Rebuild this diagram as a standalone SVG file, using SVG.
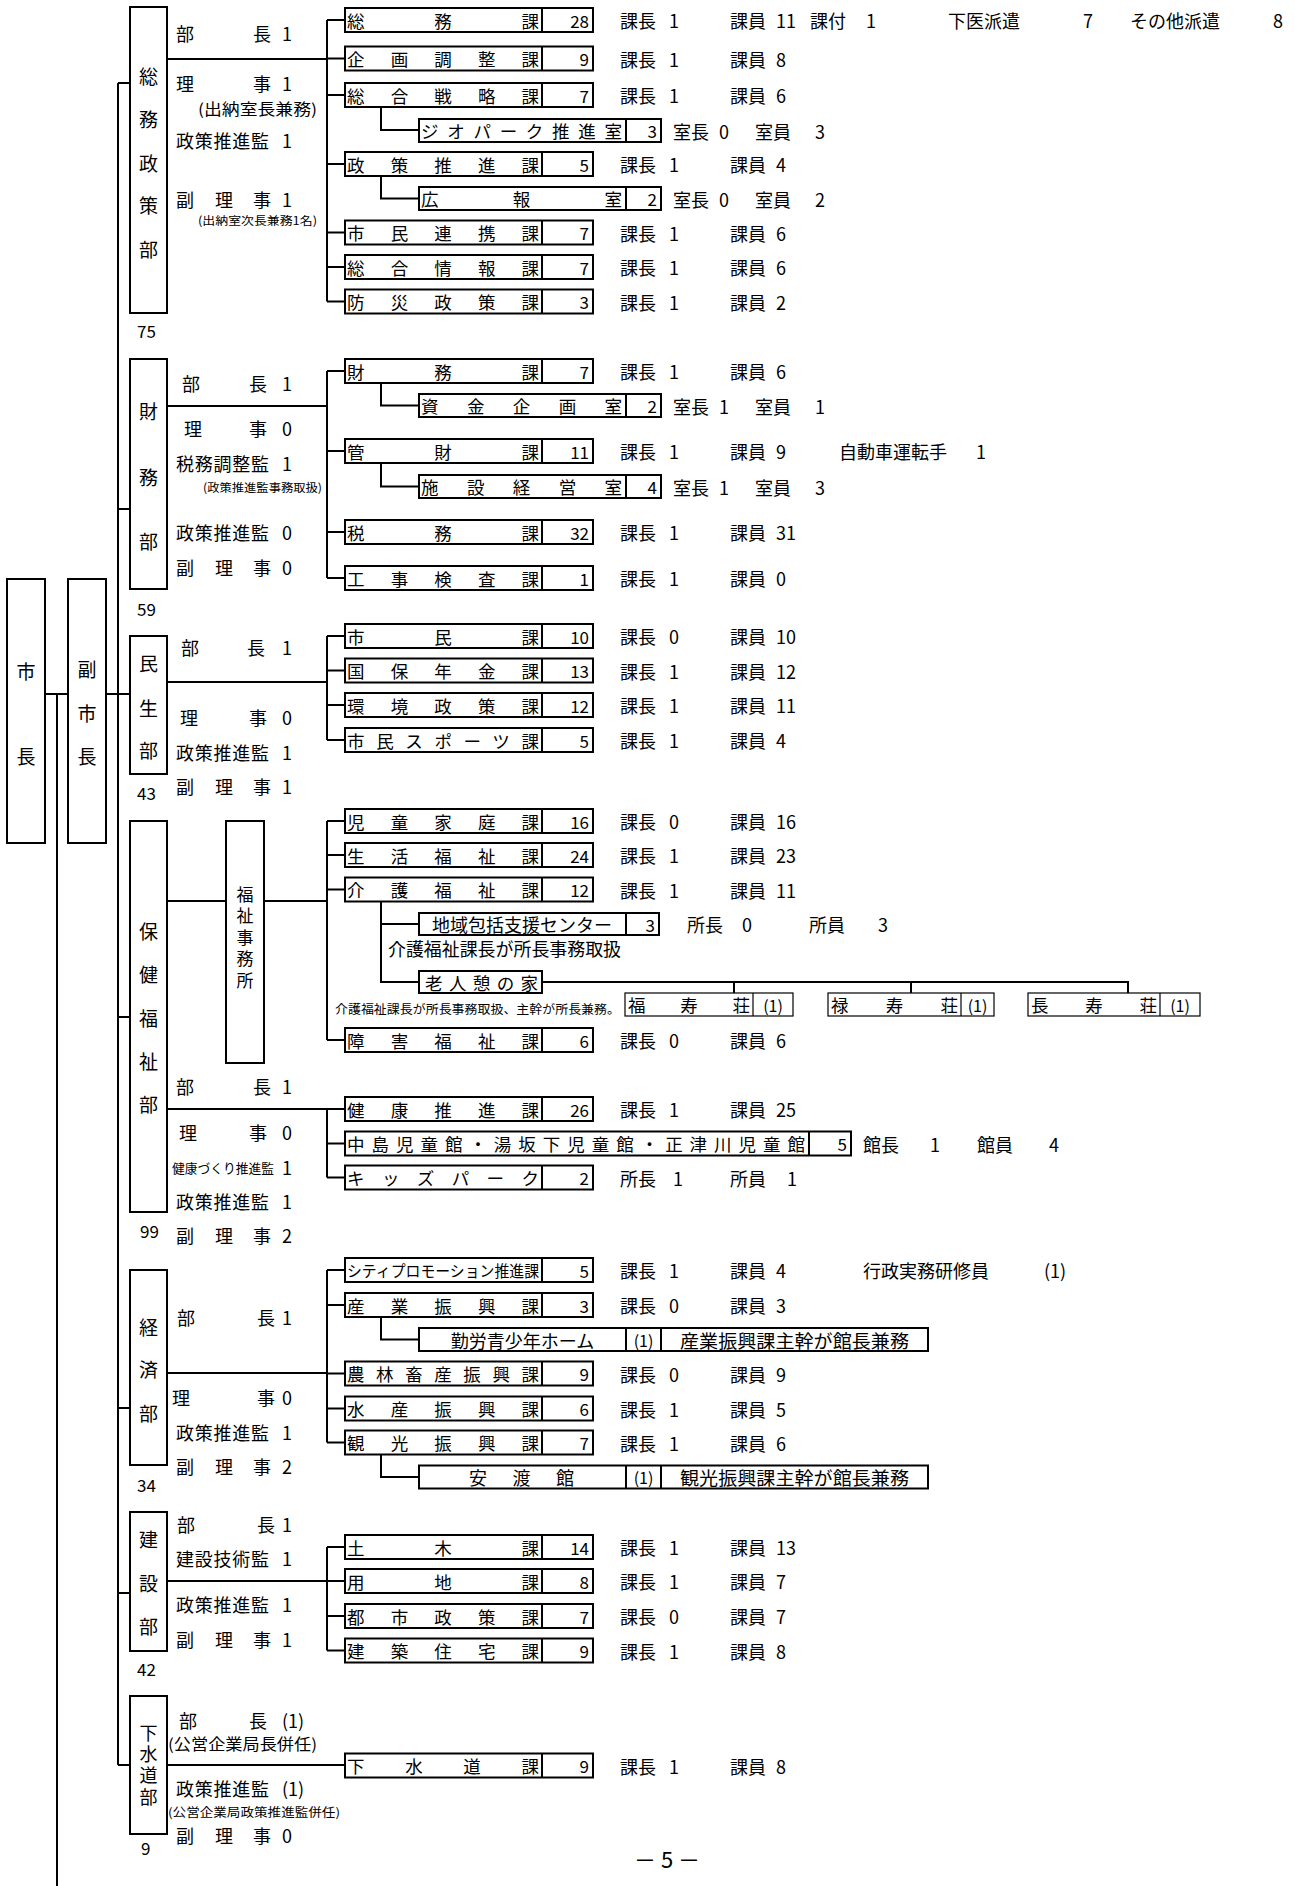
<svg xmlns="http://www.w3.org/2000/svg" width="1295" height="1886" viewBox="0 0 1295 1886">
<style>
text{font-family:"Noto Sans CJK JP","Liberation Sans",sans-serif;fill:#000;dominant-baseline:central}
.ln{stroke:#000;stroke-width:2;fill:none}
.bx{fill:#fff;stroke:#000;stroke-width:2}
.tb{fill:#fff;stroke:#000;stroke-width:1.2}
.dv{stroke:#000;stroke-width:2}
.dt{stroke:#000;stroke-width:1.2}
.d{font-size:19px;text-anchor:middle}
.s{font-size:18px}
.n{font-size:17.5px}
.num{font-size:17px;text-anchor:end}
.c{font-size:16px;text-anchor:middle}
.i{font-size:18px}
.cnt{font-size:17px}
</style>
<rect width="1295" height="1886" fill="#fff"/>

<g id="connectors">
<path class="ln" d="M45 694H68M57 694V1886M106 694H130M118 83V1765"/>
<path class="ln" d="M118 83H130M118 509H130M118 1017H130M118 1408H130M118 1593H130M118 1765H130"/>
<path class="ln" d="M167 59H327M167 406H327M167 682H327M167 901H226M264 901H327M167 1109H327M167 1373H327M167 1581H327M167 1765H345"/>
<path class="ln" d="M327 20V301.5M327 371V578M327 636V740M327 821V1040M327 1109V1177.5M327 1270V1442.5M327 1547V1650.5"/>
<path class="ln" d="M327 20H345M327 58.5H345M327 95H345M327 164H345M327 232.5H345M327 267H345M327 301.5H345
M327 371H345M327 451H345M327 532H345M327 578H345
M327 636H345M327 670.5H345M327 705H345M327 740H345
M327 821H345M327 855H345M327 889.5H345M327 1040H345
M327 1109H345M327 1143.5H345M327 1177.5H345
M327 1270H345M327 1305H345M327 1373.5H345M327 1408.5H345M327 1442.5H345
M327 1547H345M327 1581H345M327 1616H345M327 1650.5H345"/>
<path class="ln" d="M381 107V130H419M381 176V198.5H419M381 383V405.5H419M381 463V486.5H419M381 901.5V982H419M381 924H419M381 1317V1339.5H419M381 1454V1477H419"/>
<path class="ln" d="M542 982H1128V993M734 982V993M911 982V993"/>
</g>

<g id="mayor"><rect class="bx" x="7" y="579" width="38" height="264"/><text class="d" x="26" y="670">市</text><text class="d" x="26" y="755">長</text></g>
<g id="vice-mayor"><rect class="bx" x="68" y="579" width="38" height="264"/><text class="d" x="87" y="668">副</text><text class="d" x="87" y="712">市</text><text class="d" x="87" y="755">長</text></g>

<!-- 総務政策部 -->
<g id="dept-somu">
<rect class="bx" x="130" y="7" width="37" height="306"/>
<text class="d" x="148.5" y="75">総</text><text class="d" x="148.5" y="118">務</text><text class="d" x="148.5" y="162">政</text><text class="d" x="148.5" y="204">策</text><text class="d" x="148.5" y="248">部</text>
<text class="cnt" x="137" y="330">75</text>
<text class="s" y="33"><tspan x="176">部</tspan><tspan x="253">長</tspan><tspan x="282">1</tspan></text>
<text class="s" y="83"><tspan x="176">理</tspan><tspan x="253">事</tspan><tspan x="282">1</tspan></text>
<text x="198" y="108" font-size="15.5" textLength="119" lengthAdjust="spacingAndGlyphs">(出納室長兼務)</text>
<text class="s" y="140"><tspan x="176" textLength="93">政策推進監</tspan><tspan x="282">1</tspan></text>
<text class="s" y="199"><tspan x="176">副</tspan><tspan x="215">理</tspan><tspan x="253">事</tspan><tspan x="282">1</tspan></text>
<text x="198" y="220" font-size="11.5" textLength="119" lengthAdjust="spacingAndGlyphs">(出納室次長兼務1名)</text>
</g>
<g id="somu-ka"><rect class="bx" x="345" y="8" width="248" height="24"/><line class="dv" x1="542" y1="8" x2="542" y2="32"/><text class="n" x="347" y="20" textLength="192">総務課</text><text class="num" x="589" y="20">28</text>
<text class="i" y="20"><tspan x="620">課長</tspan><tspan x="669">1</tspan><tspan x="730">課員</tspan><tspan x="776">11</tspan><tspan x="810">課付</tspan><tspan x="866">1</tspan><tspan x="948">下医派遣</tspan><tspan x="1083">7</tspan><tspan x="1130">その他派遣</tspan><tspan x="1273">8</tspan></text></g>
<g id="kikaku"><rect class="bx" x="345" y="46.5" width="248" height="24"/><line class="dv" x1="542" y1="46.5" x2="542" y2="70.5"/><text class="n" x="347" y="58.5" textLength="192">企画調整課</text><text class="num" x="589" y="58.5">9</text>
<text class="i" y="58.5"><tspan x="620">課長</tspan><tspan x="669">1</tspan><tspan x="730">課員</tspan><tspan x="776">8</tspan></text></g>
<g id="senryaku"><rect class="bx" x="345" y="83" width="248" height="24"/><line class="dv" x1="542" y1="83" x2="542" y2="107"/><text class="n" x="347" y="95" textLength="192">総合戦略課</text><text class="num" x="589" y="95">7</text>
<text class="i" y="95"><tspan x="620">課長</tspan><tspan x="669">1</tspan><tspan x="730">課員</tspan><tspan x="776">6</tspan></text></g>
<g id="geopark"><rect class="bx" x="419" y="119" width="242" height="23"/><line class="dv" x1="626" y1="119" x2="626" y2="142"/><text class="n" x="421" y="130.5" textLength="201">ジオパーク推進室</text><text class="num" x="657" y="130.5">3</text>
<text class="i" y="130.5"><tspan x="673">室長</tspan><tspan x="719">0</tspan><tspan x="755">室員</tspan><tspan x="815">3</tspan></text></g>
<g id="seisaku"><rect class="bx" x="345" y="152" width="248" height="24"/><line class="dv" x1="542" y1="152" x2="542" y2="176"/><text class="n" x="347" y="164" textLength="192">政策推進課</text><text class="num" x="589" y="164">5</text>
<text class="i" y="164"><tspan x="620">課長</tspan><tspan x="669">1</tspan><tspan x="730">課員</tspan><tspan x="776">4</tspan></text></g>
<g id="koho"><rect class="bx" x="419" y="187" width="242" height="23"/><line class="dv" x1="626" y1="187" x2="626" y2="210"/><text class="n" x="421" y="198.5" textLength="201">広報室</text><text class="num" x="657" y="198.5">2</text>
<text class="i" y="198.5"><tspan x="673">室長</tspan><tspan x="719">0</tspan><tspan x="755">室員</tspan><tspan x="815">2</tspan></text></g>
<g id="renkei"><rect class="bx" x="345" y="220.5" width="248" height="24"/><line class="dv" x1="542" y1="220.5" x2="542" y2="244.5"/><text class="n" x="347" y="232.5" textLength="192">市民連携課</text><text class="num" x="589" y="232.5">7</text>
<text class="i" y="232.5"><tspan x="620">課長</tspan><tspan x="669">1</tspan><tspan x="730">課員</tspan><tspan x="776">6</tspan></text></g>
<g id="joho"><rect class="bx" x="345" y="255" width="248" height="24"/><line class="dv" x1="542" y1="255" x2="542" y2="279"/><text class="n" x="347" y="267" textLength="192">総合情報課</text><text class="num" x="589" y="267">7</text>
<text class="i" y="267"><tspan x="620">課長</tspan><tspan x="669">1</tspan><tspan x="730">課員</tspan><tspan x="776">6</tspan></text></g>
<g id="bosai"><rect class="bx" x="345" y="289.5" width="248" height="24"/><line class="dv" x1="542" y1="289.5" x2="542" y2="313.5"/><text class="n" x="347" y="301.5" textLength="192">防災政策課</text><text class="num" x="589" y="301.5">3</text>
<text class="i" y="301.5"><tspan x="620">課長</tspan><tspan x="669">1</tspan><tspan x="730">課員</tspan><tspan x="776">2</tspan></text></g>

<!-- 財務部 -->
<g id="dept-zaimu">
<rect class="bx" x="130" y="359" width="37" height="230"/>
<text class="d" x="148.5" y="410">財</text><text class="d" x="148.5" y="476">務</text><text class="d" x="148.5" y="540">部</text>
<text class="cnt" x="137" y="608">59</text>
<text class="s" y="383"><tspan x="182">部</tspan><tspan x="249">長</tspan><tspan x="282">1</tspan></text>
<text class="s" y="428"><tspan x="184">理</tspan><tspan x="249">事</tspan><tspan x="282">0</tspan></text>
<text class="s" y="463"><tspan x="176" textLength="93">税務調整監</tspan><tspan x="282">1</tspan></text>
<text x="203" y="487" font-size="11.5" textLength="119" lengthAdjust="spacingAndGlyphs">(政策推進監事務取扱)</text>
<text class="s" y="532"><tspan x="176" textLength="93">政策推進監</tspan><tspan x="282">0</tspan></text>
<text class="s" y="567"><tspan x="176">副</tspan><tspan x="215">理</tspan><tspan x="253">事</tspan><tspan x="282">0</tspan></text>
</g>
<g id="zaimu-ka"><rect class="bx" x="345" y="359" width="248" height="24"/><line class="dv" x1="542" y1="359" x2="542" y2="383"/><text class="n" x="347" y="371" textLength="192">財務課</text><text class="num" x="589" y="371">7</text>
<text class="i" y="371"><tspan x="620">課長</tspan><tspan x="669">1</tspan><tspan x="730">課員</tspan><tspan x="776">6</tspan></text></g>
<g id="shikin"><rect class="bx" x="419" y="394" width="242" height="23"/><line class="dv" x1="626" y1="394" x2="626" y2="417"/><text class="n" x="421" y="405.5" textLength="201">資金企画室</text><text class="num" x="657" y="405.5">2</text>
<text class="i" y="405.5"><tspan x="673">室長</tspan><tspan x="719">1</tspan><tspan x="755">室員</tspan><tspan x="815">1</tspan></text></g>
<g id="kanzai"><rect class="bx" x="345" y="439" width="248" height="24"/><line class="dv" x1="542" y1="439" x2="542" y2="463"/><text class="n" x="347" y="451" textLength="192">管財課</text><text class="num" x="589" y="451">11</text>
<text class="i" y="451"><tspan x="620">課長</tspan><tspan x="669">1</tspan><tspan x="730">課員</tspan><tspan x="776">9</tspan><tspan x="839">自動車運転手</tspan><tspan x="976">1</tspan></text></g>
<g id="shisetsu"><rect class="bx" x="419" y="475" width="242" height="23"/><line class="dv" x1="626" y1="475" x2="626" y2="498"/><text class="n" x="421" y="486.5" textLength="201">施設経営室</text><text class="num" x="657" y="486.5">4</text>
<text class="i" y="486.5"><tspan x="673">室長</tspan><tspan x="719">1</tspan><tspan x="755">室員</tspan><tspan x="815">3</tspan></text></g>
<g id="zeimu"><rect class="bx" x="345" y="520" width="248" height="24"/><line class="dv" x1="542" y1="520" x2="542" y2="544"/><text class="n" x="347" y="532" textLength="192">税務課</text><text class="num" x="589" y="532">32</text>
<text class="i" y="532"><tspan x="620">課長</tspan><tspan x="669">1</tspan><tspan x="730">課員</tspan><tspan x="776">31</tspan></text></g>
<g id="kensa"><rect class="bx" x="345" y="566" width="248" height="24"/><line class="dv" x1="542" y1="566" x2="542" y2="590"/><text class="n" x="347" y="578" textLength="192">工事検査課</text><text class="num" x="589" y="578">1</text>
<text class="i" y="578"><tspan x="620">課長</tspan><tspan x="669">1</tspan><tspan x="730">課員</tspan><tspan x="776">0</tspan></text></g>

<!-- 民生部 -->
<g id="dept-minsei">
<rect class="bx" x="130" y="636" width="37" height="138"/>
<text class="d" x="148.5" y="662">民</text><text class="d" x="148.5" y="707">生</text><text class="d" x="148.5" y="749">部</text>
<text class="cnt" x="137" y="792">43</text>
<text class="s" y="647"><tspan x="181">部</tspan><tspan x="247">長</tspan><tspan x="282">1</tspan></text>
<text class="s" y="717"><tspan x="180">理</tspan><tspan x="249">事</tspan><tspan x="282">0</tspan></text>
<text class="s" y="752"><tspan x="176" textLength="93">政策推進監</tspan><tspan x="282">1</tspan></text>
<text class="s" y="786"><tspan x="176">副</tspan><tspan x="215">理</tspan><tspan x="253">事</tspan><tspan x="282">1</tspan></text>
</g>
<g id="shimin"><rect class="bx" x="345" y="624" width="248" height="24"/><line class="dv" x1="542" y1="624" x2="542" y2="648"/><text class="n" x="347" y="636" textLength="192">市民課</text><text class="num" x="589" y="636">10</text>
<text class="i" y="636"><tspan x="620">課長</tspan><tspan x="669">0</tspan><tspan x="730">課員</tspan><tspan x="776">10</tspan></text></g>
<g id="kokuho"><rect class="bx" x="345" y="658.5" width="248" height="24"/><line class="dv" x1="542" y1="658.5" x2="542" y2="682.5"/><text class="n" x="347" y="670.5" textLength="192">国保年金課</text><text class="num" x="589" y="670.5">13</text>
<text class="i" y="670.5"><tspan x="620">課長</tspan><tspan x="669">1</tspan><tspan x="730">課員</tspan><tspan x="776">12</tspan></text></g>
<g id="kankyo"><rect class="bx" x="345" y="693" width="248" height="24"/><line class="dv" x1="542" y1="693" x2="542" y2="717"/><text class="n" x="347" y="705" textLength="192">環境政策課</text><text class="num" x="589" y="705">12</text>
<text class="i" y="705"><tspan x="620">課長</tspan><tspan x="669">1</tspan><tspan x="730">課員</tspan><tspan x="776">11</tspan></text></g>
<g id="sports"><rect class="bx" x="345" y="728" width="248" height="24"/><line class="dv" x1="542" y1="728" x2="542" y2="752"/><text class="n" x="347" y="740" textLength="192">市民スポーツ課</text><text class="num" x="589" y="740">5</text>
<text class="i" y="740"><tspan x="620">課長</tspan><tspan x="669">1</tspan><tspan x="730">課員</tspan><tspan x="776">4</tspan></text></g>

<!-- 保健福祉部 -->
<g id="dept-hoken">
<rect class="bx" x="130" y="821" width="37" height="391"/>
<text class="d" x="148.5" y="930">保</text><text class="d" x="148.5" y="973">健</text><text class="d" x="148.5" y="1017">福</text><text class="d" x="148.5" y="1060">祉</text><text class="d" x="148.5" y="1103">部</text>
<text class="cnt" x="140" y="1230">99</text>
<text class="s" y="1086"><tspan x="176">部</tspan><tspan x="253">長</tspan><tspan x="282">1</tspan></text>
<text class="s" y="1132"><tspan x="179">理</tspan><tspan x="249">事</tspan><tspan x="282">0</tspan></text>
<text class="s" y="1167"><tspan x="172" font-size="13" textLength="102" lengthAdjust="spacingAndGlyphs">健康づくり推進監</tspan><tspan x="282">1</tspan></text>
<text class="s" y="1201"><tspan x="176" textLength="93">政策推進監</tspan><tspan x="282">1</tspan></text>
<text class="s" y="1235"><tspan x="176">副</tspan><tspan x="215">理</tspan><tspan x="253">事</tspan><tspan x="282">2</tspan></text>
</g>
<g id="fukushi-jimusho"><rect class="bx" x="226" y="821" width="38" height="242"/>
<text x="245" y="886" font-size="17" writing-mode="vertical-rl" letter-spacing="4.5">福祉事務所</text></g>
<g id="jido"><rect class="bx" x="345" y="809" width="248" height="24"/><line class="dv" x1="542" y1="809" x2="542" y2="833"/><text class="n" x="347" y="821" textLength="192">児童家庭課</text><text class="num" x="589" y="821">16</text>
<text class="i" y="821"><tspan x="620">課長</tspan><tspan x="669">0</tspan><tspan x="730">課員</tspan><tspan x="776">16</tspan></text></g>
<g id="seikatsu"><rect class="bx" x="345" y="843" width="248" height="24"/><line class="dv" x1="542" y1="843" x2="542" y2="867"/><text class="n" x="347" y="855" textLength="192">生活福祉課</text><text class="num" x="589" y="855">24</text>
<text class="i" y="855"><tspan x="620">課長</tspan><tspan x="669">1</tspan><tspan x="730">課員</tspan><tspan x="776">23</tspan></text></g>
<g id="kaigo"><rect class="bx" x="345" y="877.5" width="248" height="24"/><line class="dv" x1="542" y1="877.5" x2="542" y2="901.5"/><text class="n" x="347" y="889.5" textLength="192">介護福祉課</text><text class="num" x="589" y="889.5">12</text>
<text class="i" y="889.5"><tspan x="620">課長</tspan><tspan x="669">1</tspan><tspan x="730">課員</tspan><tspan x="776">11</tspan></text></g>
<g id="chiiki"><rect class="bx" x="419" y="913" width="240" height="22"/><line class="dv" x1="626" y1="913" x2="626" y2="935"/><text x="522" y="924" font-size="18" text-anchor="middle">地域包括支援センター</text><text class="num" x="655" y="924">3</text>
<text class="i" y="924"><tspan x="687">所長</tspan><tspan x="742">0</tspan><tspan x="809">所員</tspan><tspan x="878">3</tspan></text>
<text x="388" y="948" font-size="18" textLength="233" lengthAdjust="spacingAndGlyphs">介護福祉課長が所長事務取扱</text></g>
<g id="rojin"><rect class="bx" x="419" y="971" width="123" height="22"/><text x="425" y="982" font-size="17.5" textLength="113">老人憩の家</text>
<text x="335" y="1008" font-size="12.5" textLength="285" lengthAdjust="spacingAndGlyphs">介護福祉課長が所長事務取扱、主幹が所長兼務。</text></g>
<g id="fukuju"><rect class="tb" x="625" y="993" width="168" height="23"/><line class="dt" x1="753" y1="993" x2="753" y2="1016"/><text class="n" x="628" y="1004.5" textLength="122">福寿荘</text><text class="c" x="773" y="1004.5">(1)</text></g>
<g id="rokuju"><rect class="tb" x="828" y="993" width="166" height="23"/><line class="dt" x1="961" y1="993" x2="961" y2="1016"/><text class="n" x="831" y="1004.5" textLength="127">禄寿荘</text><text class="c" x="977.5" y="1004.5">(1)</text></g>
<g id="choju"><rect class="tb" x="1028" y="993" width="172" height="23"/><line class="dt" x1="1160" y1="993" x2="1160" y2="1016"/><text class="n" x="1031" y="1004.5" textLength="126">長寿荘</text><text class="c" x="1180" y="1004.5">(1)</text></g>
<g id="shogai"><rect class="bx" x="345" y="1028" width="248" height="24"/><line class="dv" x1="542" y1="1028" x2="542" y2="1052"/><text class="n" x="347" y="1040" textLength="192">障害福祉課</text><text class="num" x="589" y="1040">6</text>
<text class="i" y="1040"><tspan x="620">課長</tspan><tspan x="669">0</tspan><tspan x="730">課員</tspan><tspan x="776">6</tspan></text></g>
<g id="kenko"><rect class="bx" x="345" y="1097" width="248" height="24"/><line class="dv" x1="542" y1="1097" x2="542" y2="1121"/><text class="n" x="347" y="1109" textLength="192">健康推進課</text><text class="num" x="589" y="1109">26</text>
<text class="i" y="1109"><tspan x="620">課長</tspan><tspan x="669">1</tspan><tspan x="730">課員</tspan><tspan x="776">25</tspan></text></g>
<g id="jidokan"><rect class="bx" x="345" y="1131.5" width="506" height="24"/><line class="dv" x1="809" y1="1131.5" x2="809" y2="1155.5"/><text class="n" x="347" y="1143.5" textLength="458">中島児童館・湯坂下児童館・正津川児童館</text><text class="num" x="847" y="1143.5">5</text>
<text class="i" y="1143.5"><tspan x="863">館長</tspan><tspan x="930">1</tspan><tspan x="977">館員</tspan><tspan x="1049">4</tspan></text></g>
<g id="kids"><rect class="bx" x="345" y="1165.5" width="248" height="24"/><line class="dv" x1="542" y1="1165.5" x2="542" y2="1189.5"/><text class="n" x="347" y="1177.5" textLength="192">キッズパーク</text><text class="num" x="589" y="1177.5">2</text>
<text class="i" y="1177.5"><tspan x="620">所長</tspan><tspan x="673">1</tspan><tspan x="730">所員</tspan><tspan x="787">1</tspan></text></g>

<!-- 経済部 -->
<g id="dept-keizai">
<rect class="bx" x="130" y="1270" width="37" height="195"/>
<text class="d" x="148.5" y="1326">経</text><text class="d" x="148.5" y="1368">済</text><text class="d" x="148.5" y="1412">部</text>
<text class="cnt" x="137" y="1484">34</text>
<text class="s" y="1317"><tspan x="177">部</tspan><tspan x="257">長</tspan><tspan x="282">1</tspan></text>
<text class="s" y="1397"><tspan x="172">理</tspan><tspan x="257">事</tspan><tspan x="282">0</tspan></text>
<text class="s" y="1432"><tspan x="176" textLength="93">政策推進監</tspan><tspan x="282">1</tspan></text>
<text class="s" y="1466"><tspan x="176">副</tspan><tspan x="215">理</tspan><tspan x="253">事</tspan><tspan x="282">2</tspan></text>
</g>
<g id="city"><rect class="bx" x="345" y="1258" width="248" height="24"/><line class="dv" x1="542" y1="1258" x2="542" y2="1282"/><text x="347" y="1270" font-size="15.5" textLength="192" lengthAdjust="spacingAndGlyphs">シティプロモーション推進課</text><text class="num" x="589" y="1270">5</text>
<text class="i" y="1270"><tspan x="620">課長</tspan><tspan x="669">1</tspan><tspan x="730">課員</tspan><tspan x="776">4</tspan><tspan x="863">行政実務研修員</tspan><tspan x="1044">(1)</tspan></text></g>
<g id="sangyo"><rect class="bx" x="345" y="1293" width="248" height="24"/><line class="dv" x1="542" y1="1293" x2="542" y2="1317"/><text class="n" x="347" y="1305" textLength="192">産業振興課</text><text class="num" x="589" y="1305">3</text>
<text class="i" y="1305"><tspan x="620">課長</tspan><tspan x="669">0</tspan><tspan x="730">課員</tspan><tspan x="776">3</tspan></text></g>
<g id="kinro"><rect class="bx" x="419" y="1328" width="509" height="23"/><line class="dv" x1="626" y1="1328" x2="626" y2="1351"/><line class="dv" x1="661" y1="1328" x2="661" y2="1351"/><text x="522.5" y="1339.5" font-size="18" text-anchor="middle">勤労青少年ホーム</text><text class="c" x="643.5" y="1339.5">(1)</text><text x="680" y="1339.5" font-size="18.5" textLength="229" lengthAdjust="spacingAndGlyphs">産業振興課主幹が館長兼務</text></g>
<g id="norin"><rect class="bx" x="345" y="1361.5" width="248" height="24"/><line class="dv" x1="542" y1="1361.5" x2="542" y2="1385.5"/><text class="n" x="347" y="1373.5" textLength="192">農林畜産振興課</text><text class="num" x="589" y="1373.5">9</text>
<text class="i" y="1373.5"><tspan x="620">課長</tspan><tspan x="669">0</tspan><tspan x="730">課員</tspan><tspan x="776">9</tspan></text></g>
<g id="suisan"><rect class="bx" x="345" y="1396.5" width="248" height="24"/><line class="dv" x1="542" y1="1396.5" x2="542" y2="1420.5"/><text class="n" x="347" y="1408.5" textLength="192">水産振興課</text><text class="num" x="589" y="1408.5">6</text>
<text class="i" y="1408.5"><tspan x="620">課長</tspan><tspan x="669">1</tspan><tspan x="730">課員</tspan><tspan x="776">5</tspan></text></g>
<g id="kanko"><rect class="bx" x="345" y="1430.5" width="248" height="24"/><line class="dv" x1="542" y1="1430.5" x2="542" y2="1454.5"/><text class="n" x="347" y="1442.5" textLength="192">観光振興課</text><text class="num" x="589" y="1442.5">7</text>
<text class="i" y="1442.5"><tspan x="620">課長</tspan><tspan x="669">1</tspan><tspan x="730">課員</tspan><tspan x="776">6</tspan></text></g>
<g id="ando"><rect class="bx" x="419" y="1465.5" width="509" height="23"/><line class="dv" x1="626" y1="1465.5" x2="626" y2="1488.5"/><line class="dv" x1="661" y1="1465.5" x2="661" y2="1488.5"/><text x="469" y="1477" font-size="18" textLength="105">安渡館</text><text class="c" x="643.5" y="1477">(1)</text><text x="680" y="1477" font-size="18.5" textLength="229" lengthAdjust="spacingAndGlyphs">観光振興課主幹が館長兼務</text></g>

<!-- 建設部 -->
<g id="dept-kensetsu">
<rect class="bx" x="130" y="1512" width="37" height="139"/>
<text class="d" x="148.5" y="1538">建</text><text class="d" x="148.5" y="1582">設</text><text class="d" x="148.5" y="1625">部</text>
<text class="cnt" x="137" y="1668">42</text>
<text class="s" y="1524"><tspan x="177">部</tspan><tspan x="257">長</tspan><tspan x="282">1</tspan></text>
<text class="s" y="1558"><tspan x="176" textLength="93">建設技術監</tspan><tspan x="282">1</tspan></text>
<text class="s" y="1604"><tspan x="176" textLength="93">政策推進監</tspan><tspan x="282">1</tspan></text>
<text class="s" y="1639"><tspan x="176">副</tspan><tspan x="215">理</tspan><tspan x="253">事</tspan><tspan x="282">1</tspan></text>
</g>
<g id="doboku"><rect class="bx" x="345" y="1535" width="248" height="24"/><line class="dv" x1="542" y1="1535" x2="542" y2="1559"/><text class="n" x="347" y="1547" textLength="192">土木課</text><text class="num" x="589" y="1547">14</text>
<text class="i" y="1547"><tspan x="620">課長</tspan><tspan x="669">1</tspan><tspan x="730">課員</tspan><tspan x="776">13</tspan></text></g>
<g id="yochi"><rect class="bx" x="345" y="1569" width="248" height="24"/><line class="dv" x1="542" y1="1569" x2="542" y2="1593"/><text class="n" x="347" y="1581" textLength="192">用地課</text><text class="num" x="589" y="1581">8</text>
<text class="i" y="1581"><tspan x="620">課長</tspan><tspan x="669">1</tspan><tspan x="730">課員</tspan><tspan x="776">7</tspan></text></g>
<g id="toshi"><rect class="bx" x="345" y="1604" width="248" height="24"/><line class="dv" x1="542" y1="1604" x2="542" y2="1628"/><text class="n" x="347" y="1616" textLength="192">都市政策課</text><text class="num" x="589" y="1616">7</text>
<text class="i" y="1616"><tspan x="620">課長</tspan><tspan x="669">0</tspan><tspan x="730">課員</tspan><tspan x="776">7</tspan></text></g>
<g id="kenchiku"><rect class="bx" x="345" y="1638.5" width="248" height="24"/><line class="dv" x1="542" y1="1638.5" x2="542" y2="1662.5"/><text class="n" x="347" y="1650.5" textLength="192">建築住宅課</text><text class="num" x="589" y="1650.5">9</text>
<text class="i" y="1650.5"><tspan x="620">課長</tspan><tspan x="669">1</tspan><tspan x="730">課員</tspan><tspan x="776">8</tspan></text></g>

<!-- 下水道部 -->
<g id="dept-gesuido">
<rect class="bx" x="130" y="1696" width="37" height="138"/>
<text x="148.5" y="1724" font-size="18" writing-mode="vertical-rl" letter-spacing="3.3">下水道部</text>
<text class="cnt" x="141" y="1847">9</text>
<text class="s" y="1720"><tspan x="179">部</tspan><tspan x="249">長</tspan><tspan x="282">(1)</tspan></text>
<text x="168" y="1743" font-size="15.5" textLength="149" lengthAdjust="spacingAndGlyphs">(公営企業局長併任)</text>
<text class="s" y="1788"><tspan x="176" textLength="93">政策推進監</tspan><tspan x="282">(1)</tspan></text>
<text x="168" y="1811" font-size="12" textLength="172" lengthAdjust="spacingAndGlyphs">(公営企業局政策推進監併任)</text>
<text class="s" y="1835"><tspan x="176">副</tspan><tspan x="215">理</tspan><tspan x="253">事</tspan><tspan x="282">0</tspan></text>
</g>
<g id="gesuido-ka"><rect class="bx" x="345" y="1753.5" width="248" height="24"/><line class="dv" x1="542" y1="1753.5" x2="542" y2="1777.5"/><text class="n" x="347" y="1765.5" textLength="192">下水道課</text><text class="num" x="589" y="1765.5">9</text>
<text class="i" y="1765.5"><tspan x="620">課長</tspan><tspan x="669">1</tspan><tspan x="730">課員</tspan><tspan x="776">8</tspan></text></g>

<text x="667" y="1858" font-family="Liberation Serif, serif" font-size="22" text-anchor="middle">－ 5 －</text>
</svg>
